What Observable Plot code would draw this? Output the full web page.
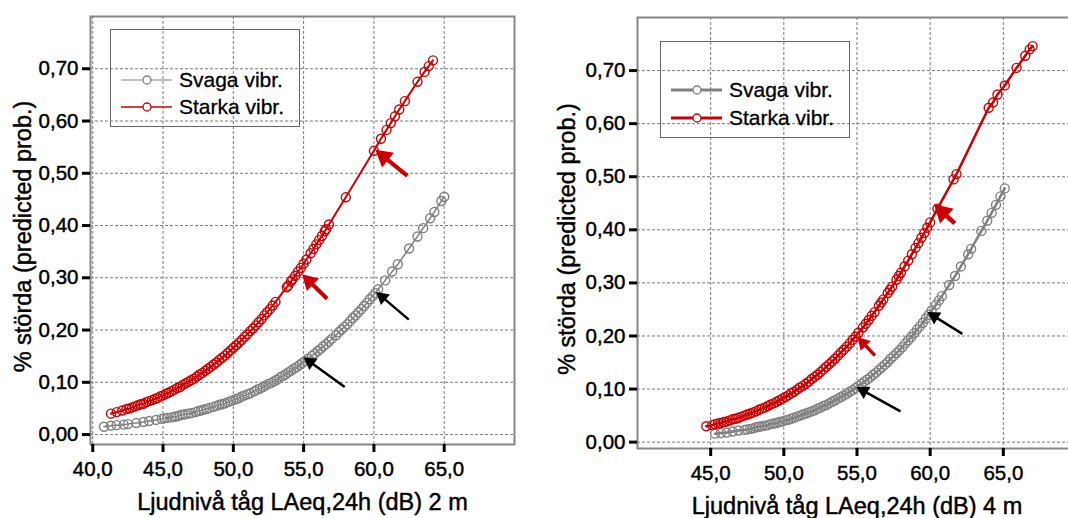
<!DOCTYPE html>
<html>
<head>
<meta charset="utf-8">
<script src="https://cdn.jsdelivr.net/npm/d3@7"></script>
<script src="https://cdn.jsdelivr.net/npm/@observablehq/plot@0.6"></script>
<style>
  html, body { margin: 0; padding: 0; background: #fff; overflow: hidden; }
  #wrap { position: relative; width: 1068px; height: 518px; overflow: hidden; font-family: "Liberation Sans", Arial, sans-serif; }
  .panel { position: absolute; top: 0; }
  .legend { position: absolute; border: 1.5px solid #666; box-sizing: border-box; }
  .item { position: absolute; left: 10px; display: flex; align-items: center; font-size: 21px; color: #000; -webkit-text-stroke: 0.3px #000; }
  .item svg { margin-right: 6px; }
</style>
</head>
<body>
<div id="wrap"></div>
<script>
// ---------- data ----------
const seriesNames = ["Svaga vibr.", "Starka vibr."];
const seriesColors = ["#808080", "#cc0000"];

// Left panel: 2 m
const leftSvagaX = [40.8,41.3,41.7,42.2,42.5,43.1,43.6,44.0,44.5,44.9,45.1,45.3,45.6,45.8,46.0,46.2,46.4,46.6,46.8,47.0,47.3,47.5,47.7,47.9,48.1,48.3,48.6,48.8,49.0,49.2,49.4,49.6,49.8,50.0,50.2,50.4,50.6,50.8,51.0,51.2,51.5,51.7,51.9,52.1,52.3,52.5,52.7,52.9,53.1,53.3,53.5,53.7,53.9,54.1,54.3,54.5,54.7,54.9,55.1,55.3,55.6,55.8,56.0,56.2,56.4,56.6,56.8,57.0,57.3,57.5,57.7,57.9,58.1,58.3,58.5,58.7,58.9,59.1,59.3,59.5,59.7,59.9,60.1,60.3,60.8,61.3,61.7,62.5,63.1,63.5,64.0,64.3,64.8,65.0];
const leftSvagaY = [0.015,0.017,0.018,0.019,0.020,0.022,0.024,0.026,0.028,0.030,0.031,0.032,0.033,0.034,0.035,0.037,0.038,0.039,0.040,0.041,0.043,0.045,0.046,0.048,0.049,0.051,0.053,0.055,0.057,0.058,0.060,0.062,0.064,0.066,0.068,0.070,0.073,0.075,0.077,0.079,0.083,0.086,0.088,0.091,0.094,0.097,0.099,0.102,0.105,0.109,0.112,0.115,0.119,0.122,0.126,0.129,0.133,0.137,0.141,0.145,0.151,0.155,0.160,0.164,0.169,0.173,0.178,0.183,0.190,0.196,0.201,0.206,0.211,0.217,0.223,0.228,0.234,0.240,0.246,0.252,0.259,0.265,0.271,0.278,0.295,0.312,0.326,0.356,0.379,0.395,0.414,0.426,0.447,0.455];
const leftStarkaX = [41.3,41.7,42.1,42.4,42.6,42.8,43.0,43.2,43.4,43.6,43.8,44.0,44.2,44.4,44.6,44.8,45.0,45.2,45.4,45.6,45.8,46.0,46.2,46.4,46.6,46.8,47.0,47.2,47.4,47.6,47.8,48.0,48.2,48.4,48.6,48.8,49.0,49.2,49.4,49.6,49.8,50.0,50.2,50.4,50.6,50.8,51.0,51.2,51.4,51.6,51.8,52.0,52.2,52.4,52.6,52.8,53.0,53.8,53.9,54.1,54.2,54.4,54.6,54.8,55.0,55.2,55.5,55.7,55.9,56.1,56.3,56.5,56.6,56.8,58.0,60.0,60.5,60.9,61.2,61.5,61.8,62.2,63.1,63.6,63.9,64.2];
const leftStarkaY = [0.040,0.043,0.046,0.049,0.050,0.052,0.054,0.056,0.058,0.059,0.062,0.064,0.066,0.068,0.070,0.073,0.075,0.078,0.080,0.083,0.086,0.089,0.091,0.095,0.098,0.101,0.104,0.107,0.111,0.115,0.118,0.122,0.126,0.130,0.134,0.138,0.143,0.147,0.151,0.156,0.161,0.166,0.171,0.176,0.181,0.187,0.192,0.198,0.203,0.209,0.215,0.221,0.228,0.234,0.240,0.247,0.254,0.282,0.285,0.293,0.297,0.304,0.312,0.319,0.327,0.335,0.347,0.355,0.364,0.372,0.380,0.389,0.393,0.402,0.454,0.543,0.566,0.583,0.596,0.609,0.622,0.638,0.675,0.694,0.705,0.716];

// Right panel: 4 m
const rightSvagaX = [45.3,45.7,46.1,46.5,46.9,47.3,47.5,47.7,47.9,48.1,48.3,48.5,48.7,48.9,49.1,49.3,49.5,49.7,49.9,50.1,50.3,50.5,50.7,50.9,51.1,51.3,51.5,51.7,51.9,52.1,52.3,52.5,52.7,52.9,53.1,53.3,53.5,53.7,53.9,54.1,54.3,54.5,54.7,54.9,55.1,55.3,55.5,55.7,55.9,56.1,56.3,56.5,56.7,56.9,57.1,57.3,57.5,57.7,57.9,58.1,58.3,58.5,58.7,58.9,59.1,59.3,59.5,59.7,59.9,60.1,60.4,60.6,60.8,61.3,61.7,62.1,62.6,62.8,63.5,63.9,64.2,64.5,64.8,65.1];
const rightSvagaY = [0.016,0.017,0.018,0.020,0.022,0.023,0.024,0.025,0.026,0.028,0.029,0.030,0.031,0.032,0.034,0.035,0.036,0.038,0.039,0.041,0.042,0.044,0.046,0.048,0.050,0.052,0.054,0.056,0.058,0.060,0.063,0.065,0.068,0.070,0.073,0.076,0.079,0.082,0.085,0.088,0.091,0.095,0.098,0.102,0.106,0.110,0.114,0.118,0.122,0.127,0.131,0.136,0.141,0.146,0.151,0.157,0.162,0.168,0.173,0.179,0.186,0.192,0.198,0.205,0.212,0.218,0.225,0.233,0.240,0.248,0.259,0.267,0.275,0.296,0.313,0.331,0.354,0.364,0.398,0.417,0.432,0.447,0.463,0.478];
const rightStarkaX = [44.7,45.1,45.3,45.5,45.7,45.9,46.1,46.3,46.5,46.7,46.9,47.1,47.3,47.5,47.7,47.9,48.1,48.3,48.5,48.7,48.9,49.1,49.3,49.5,49.7,49.9,50.1,50.3,50.5,50.7,50.9,51.1,51.3,51.5,51.7,51.9,52.1,52.3,52.5,52.7,52.9,53.1,53.3,53.5,53.7,53.9,54.1,54.3,54.5,54.7,54.9,55.1,55.4,55.6,55.8,56.0,56.2,56.5,56.65,56.8,57.1,57.25,57.4,57.7,57.85,58.0,58.25,58.5,58.75,59.0,59.2,59.4,59.6,59.8,60.0,60.5,61.6,61.8,64.0,64.3,64.6,65.1,65.9,66.5,66.8,67.0];
const rightStarkaY = [0.030,0.032,0.034,0.035,0.036,0.038,0.039,0.041,0.043,0.044,0.046,0.048,0.050,0.052,0.054,0.056,0.058,0.061,0.063,0.065,0.068,0.071,0.073,0.076,0.079,0.082,0.085,0.088,0.092,0.095,0.099,0.103,0.106,0.110,0.114,0.119,0.123,0.127,0.132,0.137,0.142,0.147,0.152,0.157,0.163,0.169,0.174,0.180,0.186,0.193,0.199,0.206,0.216,0.223,0.230,0.238,0.245,0.257,0.263,0.269,0.281,0.287,0.293,0.306,0.313,0.319,0.331,0.342,0.354,0.366,0.375,0.385,0.394,0.404,0.414,0.440,0.495,0.505,0.630,0.640,0.655,0.672,0.705,0.728,0.740,0.746];

// Annotation arrows (tail -> head), in data units; head size and shaft width
const leftArrowX1 = [62.38, 56.67, 62.48, 57.92];
const leftArrowY1 = [0.495, 0.260, 0.220, 0.091];
const leftArrowX2 = [60.10, 54.89, 60.16, 55.00];
const leftArrowY2 = [0.545, 0.307, 0.273, 0.148];
const leftArrowColor = ["#cc0000", "#cc0000", "#000000", "#000000"];
const leftArrowHead = [7, 6.5, 5.2, 5.2];
const leftArrowShaft = [4, 4, 2.5, 2.5];
const rightArrowX1 = [61.68, 56.23, 62.20, 57.97];
const rightArrowY1 = [0.412, 0.163, 0.204, 0.058];
const rightArrowX2 = [60.26, 55.03, 59.81, 54.96];
const rightArrowY2 = [0.448, 0.198, 0.245, 0.104];
const rightArrowColor = ["#cc0000", "#cc0000", "#000000", "#000000"];
const rightArrowHead = [7.5, 5.2, 5.2, 5.2];
const rightArrowShaft = [4.5, 3.5, 2.5, 2.5];

// Axis ticks and labels
const yTicks = [0, 0.1, 0.2, 0.3, 0.4, 0.5, 0.6, 0.7];
const leftXTicks = [40, 45, 50, 55, 60, 65];
const rightXTicks = [45, 50, 55, 60, 65];
const yTitle = "% störda (predicted prob.)";
const leftXTitle = "Ljudnivå tåg LAeq,24h (dB) 2 m";
const rightXTitle = "Ljudnivå tåg LAeq,24h (dB) 4 m";

// ---------- helpers ----------
const fmtY = d => d.toFixed(2).replace(".", ",");
const fmtX = d => d.toFixed(1).replace(".", ",");
const rows = (xs, ys, s) => xs.map((x, i) => ({x, y: ys[i], s}));
const arrows = (x1, y1, x2, y2, c, h, w) => x1.map((v, i) => ({x1: v, y1: y1[i], x2: x2[i], y2: y2[i], c: c[i], h: h[i], w: w[i]}));

function arrowMarks(arr, kx, ky) {
  const marks = [];
  for (const a of arr) {
    const sx = (a.x2 - a.x1) * kx, sy = -(a.y2 - a.y1) * ky;
    const len = Math.hypot(sx, sy), ux = sx / len, uy = sy / len;
    const area = Math.PI * a.h * a.h;
    const tip = 2 * Math.sqrt(area / (3 * Math.sqrt(3)));
    const cx = a.x2 - ux * tip / kx, cy = a.y2 + uy * tip / ky;
    const rot = Math.atan2(sx, -sy) * 180 / Math.PI;
    marks.push(Plot.link([a], {x1: "x1", y1: "y1", x2: () => cx, y2: () => cy, stroke: a.c, strokeWidth: a.w}));
    marks.push(Plot.dot([a], {x: () => cx, y: () => cy, symbol: "triangle", r: a.h, fill: a.c, stroke: "none", rotate: rot}));
  }
  return marks;
}

function panel({width, marginLeft, marginRight, marginTop, marginBottom, xDomain, yDomain, xTicks, gridXTicks,
                svaga, starka, arr, xTitle, lineW, xTitleDy, yTitleDx}) {
  const gridStyle = {stroke: "#7a7a7a", strokeOpacity: 1, strokeWidth: 1, strokeDasharray: "3,2"};
  const height = 518;
  const kx = (width - marginLeft - marginRight) / (xDomain[1] - xDomain[0]);
  const ky = (height - marginTop - marginBottom) / (yDomain[1] - yDomain[0]);
  const textThick = {stroke: "#000", strokeWidth: 0.45, fill: "#000"};
  return Plot.plot({
    width, height, marginLeft, marginRight, marginTop, marginBottom,
    x: {domain: xDomain},
    y: {domain: yDomain},
    style: {fontFamily: "'Liberation Sans', Arial, sans-serif", fontSize: "20px", color: "#000", background: "transparent", overflow: "visible"},
    marks: [
      Plot.gridX(gridXTicks, gridStyle),
      Plot.gridY(yTicks, gridStyle),
      Plot.frame({stroke: "#858585", strokeWidth: 2}),
      Plot.axisY(yTicks, {tickFormat: fmtY, tickSize: 8, tickPadding: 4, strokeWidth: 3, stroke: "#000", label: null, fontSize: 20.5, textStroke: "#000", textStrokeWidth: 0.45, textStrokeOpacity: 1}),
      Plot.axisX(xTicks, {tickFormat: fmtX, tickSize: 8, tickPadding: 9, strokeWidth: 3, stroke: "#000", label: null, fontSize: 20.5, textStroke: "#000", textStrokeWidth: 0.45, textStrokeOpacity: 1}),
      Plot.text([yTitle], {frameAnchor: "left", text: d => d, rotate: -90, dx: yTitleDx, dy: 6, fontSize: 23.5, textAnchor: "middle", lineAnchor: "middle", ...textThick}),
      Plot.text([xTitle], {frameAnchor: "bottom", text: d => d, dy: xTitleDy, fontSize: 23.5, textAnchor: "middle", lineAnchor: "middle", ...textThick}),
      Plot.line(svaga, {x: "x", y: "y", stroke: seriesColors[0], strokeWidth: lineW[0]}),
      Plot.dot(svaga, {x: "x", y: "y", r: 4.5, stroke: seriesColors[0], strokeWidth: 1.4, fill: "none"}),
      Plot.line(starka, {x: "x", y: "y", stroke: seriesColors[1], strokeWidth: lineW[1]}),
      Plot.dot(starka, {x: "x", y: "y", r: 4.5, stroke: seriesColors[1], strokeWidth: 1.4, fill: "none"}),
      ...arrowMarks(arr, kx, ky)
    ]
  });
}

function legendBox(left, top, w, h, lineW, itemTops) {
  const box = document.createElement("div");
  box.className = "legend";
  Object.assign(box.style, {left: left + "px", top: top + "px", width: w + "px", height: h + "px"});
  seriesNames.forEach((name, i) => {
    const it = document.createElement("div");
    it.className = "item";
    it.style.top = itemTops[i] + "px";
    it.style.height = "28px";
    it.style.marginTop = "-14px";
    const svg = d3.create("svg").attr("width", 52).attr("height", 12);
    svg.append("line").attr("x1", 0).attr("x2", 51).attr("y1", 6).attr("y2", 6)
      .attr("stroke", seriesColors[i]).attr("stroke-width", lineW[i]);
    svg.append("circle").attr("cx", 26).attr("cy", 6).attr("r", 4).attr("fill", "white")
      .attr("stroke", seriesColors[i]).attr("stroke-width", 1.3);
    it.appendChild(svg.node());
    const t = document.createElement("span");
    t.textContent = name;
    it.appendChild(t);
    box.appendChild(it);
  });
  return box;
}

const wrap = document.getElementById("wrap");

const left = panel({
  width: 540, marginLeft: 90, marginRight: 26, marginTop: 16, marginBottom: 74,
  xDomain: [39.84, 70], yDomain: [-0.019, 0.80], xTicks: leftXTicks, gridXTicks: leftXTicks,
  svaga: rows(leftSvagaX, leftSvagaY, seriesNames[0]),
  starka: rows(leftStarkaX, leftStarkaY, seriesNames[1]),
  arr: arrows(leftArrowX1, leftArrowY1, leftArrowX2, leftArrowY2, leftArrowColor, leftArrowHead, leftArrowShaft),
  xTitle: leftXTitle, lineW: [1.5, 2], xTitleDy: 58, yTitleDx: -67
});
left.classList.add("panel");
left.style.left = "0px";
wrap.appendChild(left);

const right = panel({
  width: 536, marginLeft: 97, marginRight: 0, marginTop: 17, marginBottom: 70,
  xDomain: [40, 70], yDomain: [-0.012, 0.80], xTicks: rightXTicks, gridXTicks: rightXTicks,
  svaga: rows(rightSvagaX, rightSvagaY, seriesNames[0]),
  starka: rows(rightStarkaX, rightStarkaY, seriesNames[1]),
  arr: arrows(rightArrowX1, rightArrowY1, rightArrowX2, rightArrowY2, rightArrowColor, rightArrowHead, rightArrowShaft),
  xTitle: rightXTitle, lineW: [2.5, 2.5], xTitleDy: 58, yTitleDx: -70
});
right.classList.add("panel");
right.style.left = "540px";
wrap.appendChild(right);

wrap.appendChild(legendBox(110, 29, 190, 98, [1.2, 1.5], [50, 77]));
wrap.appendChild(legendBox(660, 41, 190, 97, [3, 3], [48, 76]));
</script>
</body>
</html>
